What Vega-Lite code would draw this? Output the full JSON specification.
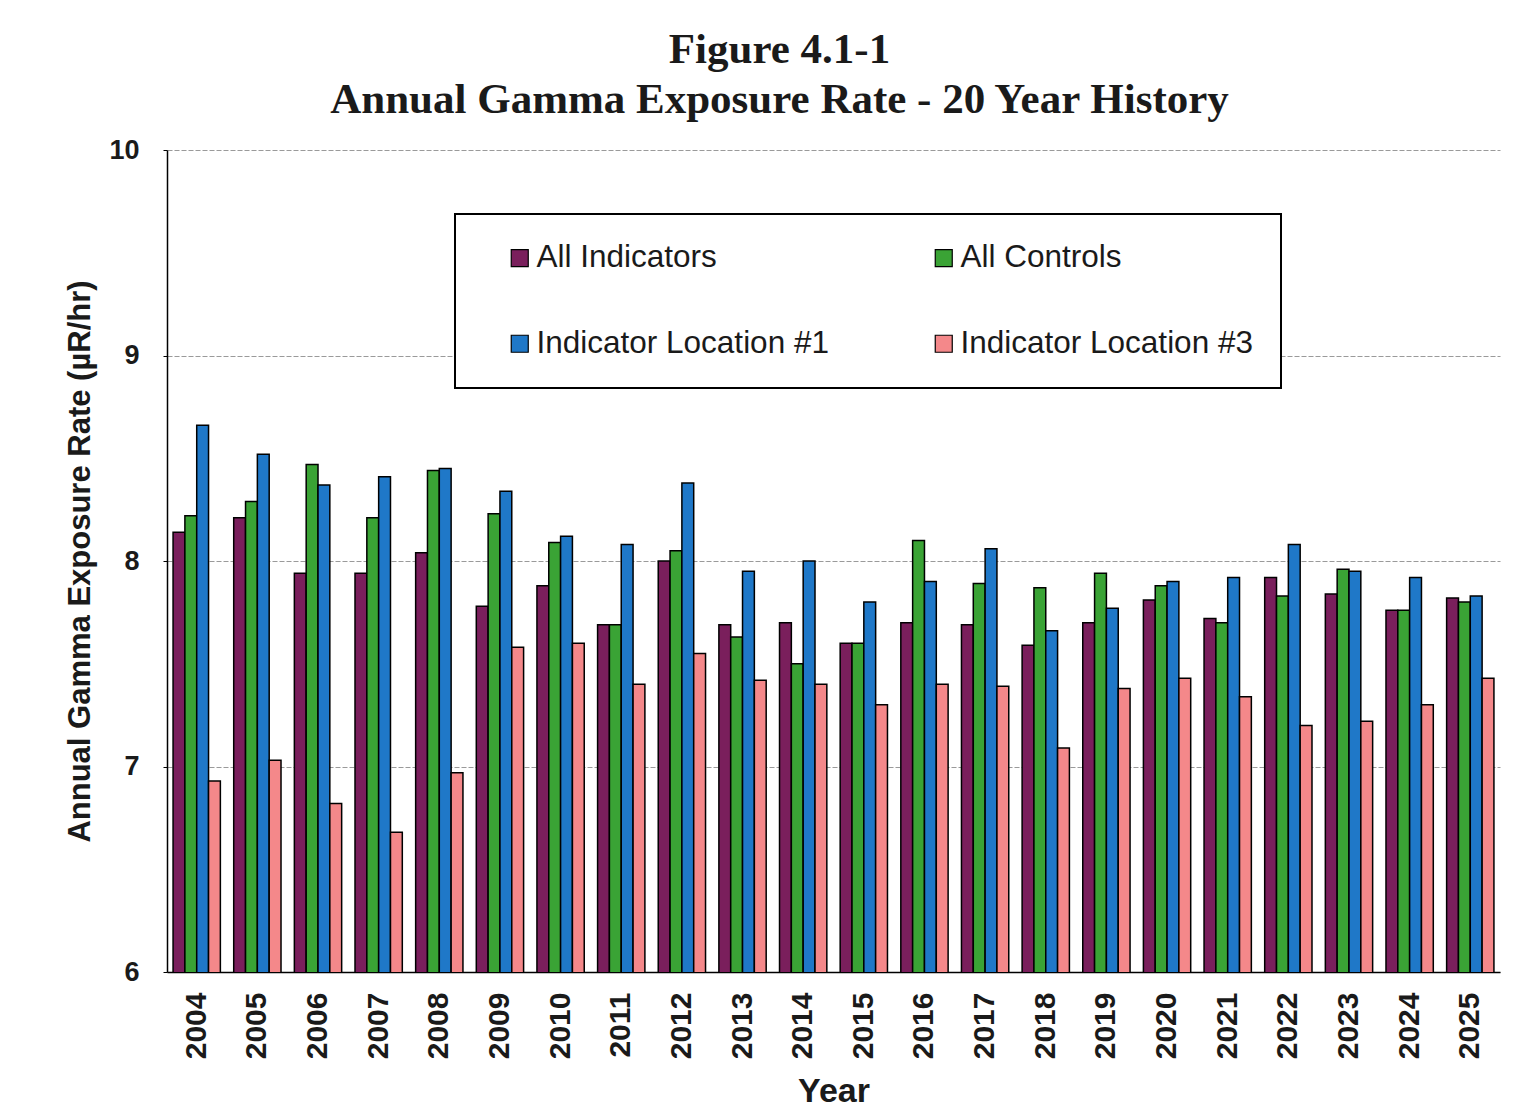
{
  "$schema": "https://vega.github.io/schema/vega-lite/v6.json",
  "width": 1333,
  "height": 822,
  "autosize": {"type": "none"},
  "padding": {"left": 167, "top": 150, "right": 34, "bottom": 147},
  "background": "white",
  "title": {
    "text": ["Figure 4.1-1", "Annual Gamma Exposure Rate - 20 Year History"],
    "font": "Liberation Serif",
    "fontSize": 43,
    "fontWeight": "bold",
    "color": "#1a1a1a",
    "lineHeight": 50,
    "anchor": "middle",
    "dx": -54,
    "offset": 14
  },
  "data": {
    "values": [
      {"Year": "2004", "Series": "All Indicators", "Rate": 8.14},
      {"Year": "2004", "Series": "All Controls", "Rate": 8.22},
      {"Year": "2004", "Series": "Indicator Location #1", "Rate": 8.66},
      {"Year": "2004", "Series": "Indicator Location #3", "Rate": 6.93},
      {"Year": "2005", "Series": "All Indicators", "Rate": 8.21},
      {"Year": "2005", "Series": "All Controls", "Rate": 8.29},
      {"Year": "2005", "Series": "Indicator Location #1", "Rate": 8.52},
      {"Year": "2005", "Series": "Indicator Location #3", "Rate": 7.03},
      {"Year": "2006", "Series": "All Indicators", "Rate": 7.94},
      {"Year": "2006", "Series": "All Controls", "Rate": 8.47},
      {"Year": "2006", "Series": "Indicator Location #1", "Rate": 8.37},
      {"Year": "2006", "Series": "Indicator Location #3", "Rate": 6.82},
      {"Year": "2007", "Series": "All Indicators", "Rate": 7.94},
      {"Year": "2007", "Series": "All Controls", "Rate": 8.21},
      {"Year": "2007", "Series": "Indicator Location #1", "Rate": 8.41},
      {"Year": "2007", "Series": "Indicator Location #3", "Rate": 6.68},
      {"Year": "2008", "Series": "All Indicators", "Rate": 8.04},
      {"Year": "2008", "Series": "All Controls", "Rate": 8.44},
      {"Year": "2008", "Series": "Indicator Location #1", "Rate": 8.45},
      {"Year": "2008", "Series": "Indicator Location #3", "Rate": 6.97},
      {"Year": "2009", "Series": "All Indicators", "Rate": 7.78},
      {"Year": "2009", "Series": "All Controls", "Rate": 8.23},
      {"Year": "2009", "Series": "Indicator Location #1", "Rate": 8.34},
      {"Year": "2009", "Series": "Indicator Location #3", "Rate": 7.58},
      {"Year": "2010", "Series": "All Indicators", "Rate": 7.88},
      {"Year": "2010", "Series": "All Controls", "Rate": 8.09},
      {"Year": "2010", "Series": "Indicator Location #1", "Rate": 8.12},
      {"Year": "2010", "Series": "Indicator Location #3", "Rate": 7.6},
      {"Year": "2011", "Series": "All Indicators", "Rate": 7.69},
      {"Year": "2011", "Series": "All Controls", "Rate": 7.69},
      {"Year": "2011", "Series": "Indicator Location #1", "Rate": 8.08},
      {"Year": "2011", "Series": "Indicator Location #3", "Rate": 7.4},
      {"Year": "2012", "Series": "All Indicators", "Rate": 8.0},
      {"Year": "2012", "Series": "All Controls", "Rate": 8.05},
      {"Year": "2012", "Series": "Indicator Location #1", "Rate": 8.38},
      {"Year": "2012", "Series": "Indicator Location #3", "Rate": 7.55},
      {"Year": "2013", "Series": "All Indicators", "Rate": 7.69},
      {"Year": "2013", "Series": "All Controls", "Rate": 7.63},
      {"Year": "2013", "Series": "Indicator Location #1", "Rate": 7.95},
      {"Year": "2013", "Series": "Indicator Location #3", "Rate": 7.42},
      {"Year": "2014", "Series": "All Indicators", "Rate": 7.7},
      {"Year": "2014", "Series": "All Controls", "Rate": 7.5},
      {"Year": "2014", "Series": "Indicator Location #1", "Rate": 8.0},
      {"Year": "2014", "Series": "Indicator Location #3", "Rate": 7.4},
      {"Year": "2015", "Series": "All Indicators", "Rate": 7.6},
      {"Year": "2015", "Series": "All Controls", "Rate": 7.6},
      {"Year": "2015", "Series": "Indicator Location #1", "Rate": 7.8},
      {"Year": "2015", "Series": "Indicator Location #3", "Rate": 7.3},
      {"Year": "2016", "Series": "All Indicators", "Rate": 7.7},
      {"Year": "2016", "Series": "All Controls", "Rate": 8.1},
      {"Year": "2016", "Series": "Indicator Location #1", "Rate": 7.9},
      {"Year": "2016", "Series": "Indicator Location #3", "Rate": 7.4},
      {"Year": "2017", "Series": "All Indicators", "Rate": 7.69},
      {"Year": "2017", "Series": "All Controls", "Rate": 7.89},
      {"Year": "2017", "Series": "Indicator Location #1", "Rate": 8.06},
      {"Year": "2017", "Series": "Indicator Location #3", "Rate": 7.39},
      {"Year": "2018", "Series": "All Indicators", "Rate": 7.59},
      {"Year": "2018", "Series": "All Controls", "Rate": 7.87},
      {"Year": "2018", "Series": "Indicator Location #1", "Rate": 7.66},
      {"Year": "2018", "Series": "Indicator Location #3", "Rate": 7.09},
      {"Year": "2019", "Series": "All Indicators", "Rate": 7.7},
      {"Year": "2019", "Series": "All Controls", "Rate": 7.94},
      {"Year": "2019", "Series": "Indicator Location #1", "Rate": 7.77},
      {"Year": "2019", "Series": "Indicator Location #3", "Rate": 7.38},
      {"Year": "2020", "Series": "All Indicators", "Rate": 7.81},
      {"Year": "2020", "Series": "All Controls", "Rate": 7.88},
      {"Year": "2020", "Series": "Indicator Location #1", "Rate": 7.9},
      {"Year": "2020", "Series": "Indicator Location #3", "Rate": 7.43},
      {"Year": "2021", "Series": "All Indicators", "Rate": 7.72},
      {"Year": "2021", "Series": "All Controls", "Rate": 7.7},
      {"Year": "2021", "Series": "Indicator Location #1", "Rate": 7.92},
      {"Year": "2021", "Series": "Indicator Location #3", "Rate": 7.34},
      {"Year": "2022", "Series": "All Indicators", "Rate": 7.92},
      {"Year": "2022", "Series": "All Controls", "Rate": 7.83},
      {"Year": "2022", "Series": "Indicator Location #1", "Rate": 8.08},
      {"Year": "2022", "Series": "Indicator Location #3", "Rate": 7.2},
      {"Year": "2023", "Series": "All Indicators", "Rate": 7.84},
      {"Year": "2023", "Series": "All Controls", "Rate": 7.96},
      {"Year": "2023", "Series": "Indicator Location #1", "Rate": 7.95},
      {"Year": "2023", "Series": "Indicator Location #3", "Rate": 7.22},
      {"Year": "2024", "Series": "All Indicators", "Rate": 7.76},
      {"Year": "2024", "Series": "All Controls", "Rate": 7.76},
      {"Year": "2024", "Series": "Indicator Location #1", "Rate": 7.92},
      {"Year": "2024", "Series": "Indicator Location #3", "Rate": 7.3},
      {"Year": "2025", "Series": "All Indicators", "Rate": 7.82},
      {"Year": "2025", "Series": "All Controls", "Rate": 7.8},
      {"Year": "2025", "Series": "Indicator Location #1", "Rate": 7.83},
      {"Year": "2025", "Series": "Indicator Location #3", "Rate": 7.43}
    ]
  },
  "mark": {"type": "bar", "stroke": "black", "strokeWidth": 1.5, "clip": true},
  "encoding": {
    "x": {
      "field": "Year",
      "type": "nominal",
      "scale": {"paddingInner": 0.22, "paddingOuter": 0.1},
      "axis": {
        "title": "Year",
        "titleFont": "Liberation Sans",
        "titleFontSize": 34,
        "titleFontWeight": "bold",
        "titleColor": "#1a1a1a",
        "titlePadding": 16,
        "labelAngle": 270,
        "labelFont": "Liberation Sans",
        "labelFontSize": 30,
        "labelFontWeight": "bold",
        "labelColor": "#1a1a1a",
        "labelPadding": 20,
        "ticks": false,
        "domainColor": "black",
        "domainWidth": 1.5,
        "grid": false
      }
    },
    "xOffset": {
      "field": "Series",
      "type": "nominal",
      "sort": ["All Indicators", "All Controls", "Indicator Location #1", "Indicator Location #3"],
      "scale": {"paddingInner": 0, "paddingOuter": 0}
    },
    "y": {
      "field": "Rate",
      "type": "quantitative",
      "scale": {"domain": [6, 10], "nice": false, "zero": false},
      "axis": {
        "title": "Annual Gamma Exposure Rate (µR/hr)",
        "titleFont": "Liberation Sans",
        "titleFontSize": 31,
        "titleFontWeight": "bold",
        "titleColor": "#1a1a1a",
        "titlePadding": 12,
        "values": [6, 7, 8, 9, 10],
        "labelFont": "Liberation Sans",
        "labelFontSize": 27,
        "labelFontWeight": "bold",
        "labelColor": "#1a1a1a",
        "labelPadding": 24,
        "ticks": true,
        "tickSize": 4,
        "tickColor": "black",
        "domainColor": "black",
        "domainWidth": 1.5,
        "grid": true,
        "gridColor": "#9a9a9a",
        "gridWidth": 1.2,
        "gridDash": [5, 2]
      }
    },
    "color": {
      "field": "Series",
      "type": "nominal",
      "sort": ["All Indicators", "All Controls", "Indicator Location #1", "Indicator Location #3"],
      "scale": {
        "domain": ["All Indicators", "All Controls", "Indicator Location #1", "Indicator Location #3"],
        "range": ["#7a1f5c", "#3aa335", "#1f78c8", "#f4888a"]
      },
      "legend": {
        "title": null,
        "orient": "none",
        "legendX": 288,
        "legendY": 64,
        "columns": 2,
        "direction": "horizontal",
        "fillColor": "white",
        "strokeColor": "black",
        "padding": 28,
        "rowPadding": 53,
        "columnPadding": 78,
        "symbolType": "square",
        "symbolSize": 289,
        "symbolStrokeColor": "black",
        "symbolStrokeWidth": 1.2,
        "symbolOffset": 21,
        "labelFont": "Liberation Sans",
        "labelFontSize": 31.5,
        "labelColor": "#1a1a1a",
        "labelOffset": 1,
        "labelLimit": 400,
        "encode": {"legend": {"update": {"strokeWidth": {"value": 2}}}}
      }
    }
  },
  "config": {
    "view": {"stroke": null}
  }
}
